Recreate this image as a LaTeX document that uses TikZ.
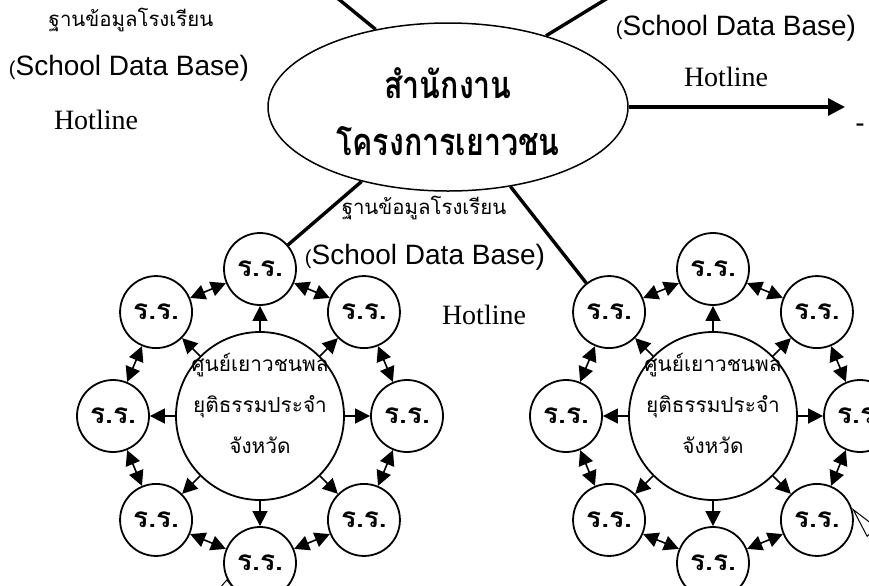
\documentclass[tikz,border=0pt]{standalone}
\usepackage{fontspec}
\setmainfont{Liberation Serif}
\newfontfamily\thai[Script=Thai]{Loma}
\newfontfamily\thaitight[Script=Thai, FakeStretch=0.8]{Loma}
\newfontfamily\arial{Liberation Sans}
\usetikzlibrary{arrows.meta,shapes.geometric}

\newcommand{\sdb}{{\fontsize{10}{10}\selectfont(}School Data Base)}

\tikzset{
  thaitext/.style={font=\thai\fontsize{10.2}{12}\selectfont, inner sep=0pt},
  entext/.style={font=\arial\fontsize{14}{16}\selectfont, inner sep=0pt},
  hottext/.style={font=\fontsize{14}{16}\selectfont, inner sep=0pt},
  school/.style={circle, draw, line width=0.9pt, minimum size=36pt, inner sep=0pt,
    font=\thai\bfseries\fontsize{14}{14}\selectfont},
  hub/.style={circle, draw, line width=0.9pt, minimum size=84pt, inner sep=0pt},
  hubtext/.style={align=center, inner sep=0pt, yshift=6.5pt,
    font=\thai\fontsize{10.4}{20.5}\selectfont},
  feed/.style={line width=1.7pt},
  oneway/.style={line width=0.8pt, -{Triangle[length=7.5pt,width=7.5pt]}},
  twoway/.style={line width=0.8pt, {Triangle[length=7.5pt,width=7.5pt]}-{Triangle[length=7.5pt,width=7.5pt]}},
  pointer/.style={line width=0.5pt},
}

\begin{document}
\begin{tikzpicture}[x=0.5pt, y=-0.5pt]
    \useasboundingbox (0,0) rectangle (869,585);
    \clip (0,0) rectangle (869,585);

    % Office
    \node[ellipse, draw, line width=0.75pt, minimum width=180pt, minimum height=84pt,
      inner sep=0pt] (office) at (448,107) {};
    \node[align=center, inner sep=0pt, font=\thaitight\bfseries\fontsize{19}{26.5}\selectfont]
      (officename) at (448,112) {สำนักงาน\\[2pt]โครงการเยาวชน};

    % Free ends
    \coordinate (tl) at (303,-30);
    \coordinate (tr) at (634,-18);
    \coordinate (out) at (845,107);
    \coordinate (lx) at (226,640);
    \coordinate (rx) at (950,625);

    % Clusters (hub + schools)
    \foreach \c/\x in {l/260, r/713} {
      \begin{scope}[shift={(\x,416)}]
        \node[hub] (\c hub) at (0,0) {};
        \node[hubtext] (\c name) at (0,0) {ศูนย์เยาวชนพล\\ยุติธรรมประจำ\\จังหวัด};
        \foreach \a in {0,45,...,315}
          \node[school] (\c\a) at (\a:147) {ร.ร.};
        \foreach \a in {0,45,...,315}
          \draw[oneway] (\c hub) -- (\c\a);
        \foreach \a/\b in {0/45, 45/90, 90/135, 135/180, 180/225, 225/270, 270/315, 315/0}
          \draw[twoway] (\c\a) -- (\c\b);
      \end{scope}
    }

    % Feed lines
    \draw[feed] (office.133) -- (tl);
    \draw[feed] (office.36) -- (tr);
    \draw[feed, -{Triangle[length=8.5pt,width=8.5pt]}] (office.east) -- (out);
    \draw[feed] (office) -- (l270);
    \draw[feed] (office) -- (r225);

    % Pointers at the bottom
    \draw[pointer, -{Triangle[open,length=6pt,width=10pt]}] (lx) -- (l90.206);
    \draw[pointer, -{Triangle[open,length=16pt,width=7pt]}] (rx) -- (r45.19);

    % Labels
    \node[thaitext] (t1) at (131,20) {ฐานข้อมูลโรงเรียน};
    \node[entext] (s1) at (129,68) {\sdb};
    \node[hottext] (h1) at (96,120) {Hotline};
    \node[entext] (s2) at (736,28) {\sdb};
    \node[hottext] (h2) at (726,77) {Hotline};
    \node[thaitext] (t3) at (424,208) {ฐานข้อมูลโรงเรียน};
    \node[entext] (s3) at (425,257) {\sdb};
    \node[hottext] (h3) at (484,315) {Hotline};
    \node[entext] (dash) at (860,128) {-};
\end{tikzpicture}
\end{document}
